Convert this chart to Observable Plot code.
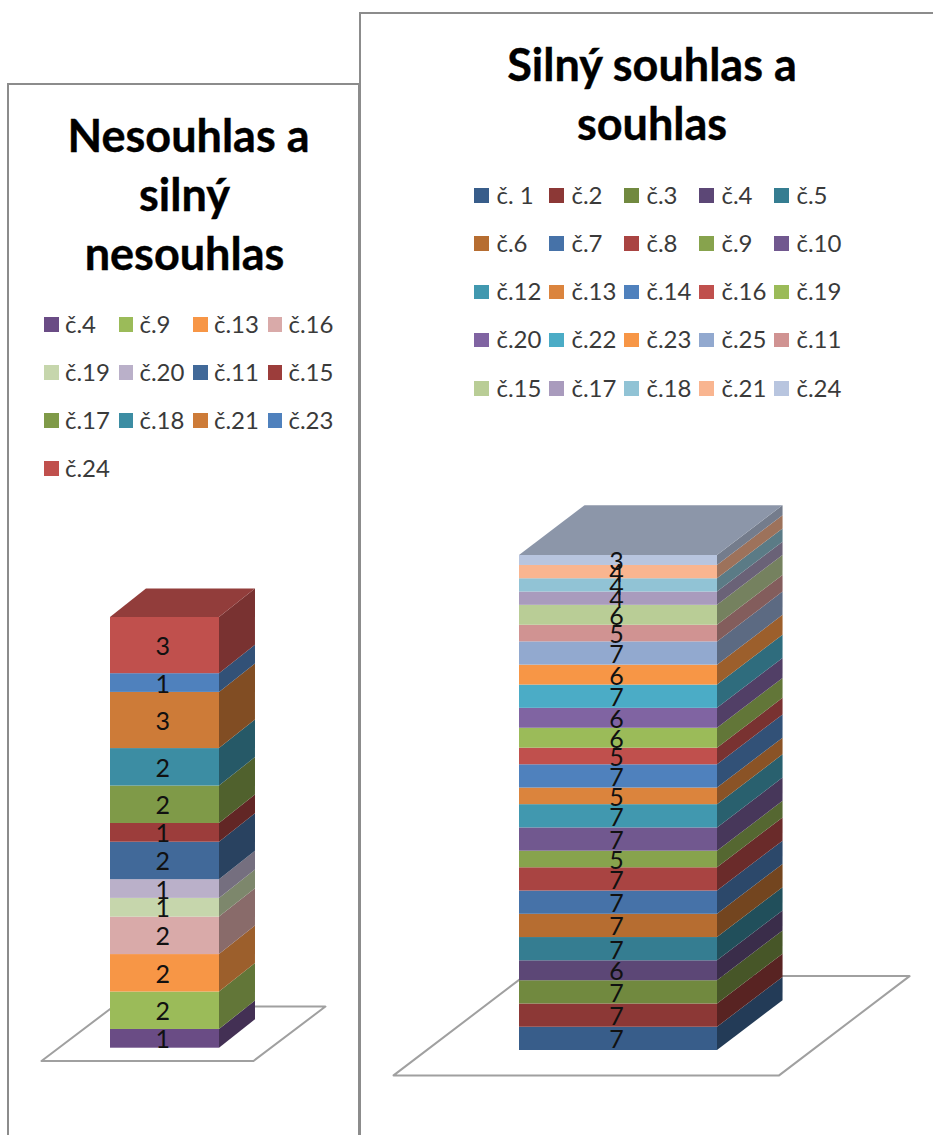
<!DOCTYPE html>
<html lang="cs">
<head>
<meta charset="utf-8">
<script src="https://cdn.jsdelivr.net/npm/d3@7"></script>
<script src="https://cdn.jsdelivr.net/npm/@observablehq/plot@0.6"></script>
<style>
html,body{margin:0;padding:0;background:#fff;}
body{position:relative;width:933px;height:1135px;overflow:hidden;font-family:Lato,"Open Sans",sans-serif;}
.panel{position:absolute;box-sizing:border-box;background:#fff;border:2.5px solid #8c8c8c;}
.title{position:absolute;text-align:center;font-weight:700;font-size:45px;line-height:59px;color:#000;white-space:nowrap;-webkit-text-stroke:0.4px #000;}
.key{position:absolute;font-size:24px;line-height:28px;color:#3a3a3a;white-space:nowrap;}
.swatch{position:absolute;width:14.5px;height:14.5px;}
.chart{position:absolute;}
.chart svg{display:block;}
</style>
</head>
<body>
<script>
// Left chart: Nesouhlas a silný nesouhlas
const leftTitle = ["Nesouhlas a", "silný", "nesouhlas"];
const leftNames = ["č.4","č.9","č.13","č.16","č.19","č.20","č.11","č.15","č.17","č.18","č.21","č.23","č.24"];
const leftValues = [1,2,2,2,1,1,2,1,2,2,3,1,3];
const leftColors = ["#6a4c85","#9bbb59","#f79646","#d9aaa9","#c6d6ac","#bab0c9","#416999","#9c3d3b","#7f9a48","#3c8da3","#cd7b38","#4f81bd","#c0504d"];

// Right chart: Silný souhlas a souhlas
const rightTitle = ["Silný souhlas a", "souhlas"];
const rightNames = ["č. 1","č.2","č.3","č.4","č.5","č.6","č.7","č.8","č.9","č.10","č.12","č.13","č.14","č.16","č.19","č.20","č.22","č.23","č.25","č.11","č.15","č.17","č.18","č.21","č.24"];
const rightValues = [7,7,7,6,7,7,7,7,5,7,7,5,7,5,6,6,7,6,7,5,6,4,4,4,3];
const rightColors = ["#385d8a","#8c3836","#71893f","#5c4776","#357d91","#b66d31","#4672a8","#a94442","#87a34d","#71588f","#4198af","#db843d","#4f81bd","#c0504d","#9bbb59","#8064a2","#4bacc6","#f79646","#92a9cf","#d09392","#b9cd96","#a99bbd","#91c3d5","#f9b590","#b8c5df"];

function shade(c, k) {
  const r = d3.rgb(c);
  return d3.rgb(r.r * k, r.g * k, r.b * k).formatHex();
}

function addDiv(cls, css, text) {
  const d = document.createElement("div");
  d.className = cls;
  Object.assign(d.style, css);
  if (text != null) d.textContent = text;
  document.body.appendChild(d);
  return d;
}

function column({names, values, colors, box, bar, depth, floor, labelX}) {
  const tops = d3.cumsum(values);
  const rows = names.map((name, i) => ({name, value: values[i], color: colors[i], y1: tops[i] - values[i], y2: tops[i]}));
  const total = tops[tops.length - 1];
  const sx = bar.right - bar.left, sy = (bar.bottom - bar.top) / total;

  // Side faces: one sheared band per segment
  const side = rows.flatMap(r => [0, depth.x].map(t => ({
    name: r.name, color: shade(r.color, 0.63),
    x: 1 + t, y1: r.y1 + depth.y * t / depth.x, y2: r.y2 + depth.y * t / depth.x
  })));
  const last = rows[rows.length - 1];
  const topFace = [0, depth.y].map(t => ({
    y: total + t, x1: depth.x * t / depth.y, x2: 1 + depth.x * t / depth.y
  }));
  const floorLine = [
    {x: floor.x0, y: floor.y0},
    {x: floor.x1, y: floor.y0},
    {x: floor.x1 + floor.dx, y: floor.y0 + floor.dy},
    {x: floor.x0 + floor.dx, y: floor.y0 + floor.dy},
    {x: floor.x0, y: floor.y0}
  ];

  const plot = Plot.plot({
    width: box.width, height: box.height,
    margin: 0,
    style: {background: "transparent", fontFamily: "Lato, 'Open Sans', sans-serif"},
    x: {axis: null, domain: [(box.left - bar.left) / sx, (box.left + box.width - bar.left) / sx], range: [0, box.width]},
    y: {axis: null, domain: [(bar.bottom - box.top - box.height) / sy, (bar.bottom - box.top) / sy], range: [box.height, 0]},
    marks: [
      Plot.line(floorLine, {x: "x", y: "y", stroke: "#a0a0a0", strokeWidth: 2}),
      Plot.areaY(side, {x: "x", y1: "y1", y2: "y2", z: "name", fill: "color"}),
      Plot.areaX(topFace, {y: "y", x1: "x1", x2: "x2", fill: shade(last.color, 0.76)}),
      Plot.rect(rows, {x1: () => 0, x2: () => 1, y1: "y1", y2: "y2", fill: "color"}),
      Plot.text(rows, {x: () => labelX, y: d => (d.y1 + d.y2) / 2, text: d => String(d.value), fontSize: 25, fill: "#111", dy: 1.5})
    ]
  });
  const holder = addDiv("chart", {left: box.left + "px", top: box.top + "px", width: box.width + "px", height: box.height + "px"});
  holder.appendChild(plot);
}

function legend(names, colors, g) {
  names.forEach((name, i) => {
    const col = i % g.cols, row = Math.floor(i / g.cols);
    const cy = g.y + row * g.rowStep, x = g.x + col * g.colStep;
    addDiv("swatch", {left: x + "px", top: (cy - 7) + "px", background: colors[i]});
    addDiv("key", {left: (x + g.textGap) + "px", top: (cy - 14.5) + "px"}, name);
  });
}

// Left panel
addDiv("panel", {left: "7px", top: "83px", width: "352.5px", height: "1100px"});
leftTitle.forEach((t, i) => addDiv("title", {left: (i === 0 ? 8 : 4) + "px", width: "361px", top: (106 + i * 59) + "px"}, t));
legend(leftNames, leftColors, {cols: 4, x: 44, y: 324, rowStep: 48, colStep: 74.5, textGap: 21});
column({
  names: leftNames, values: leftValues, colors: leftColors,
  box: {left: 10, top: 560, width: 346, height: 560},
  bar: {left: 110, right: 219, bottom: 1047.7, top: 617},
  depth: {x: 0.33, y: 1.52},
  floor: {x0: -0.633, x1: 1.312, y0: -0.683, dx: 0.66, dy: 2.91},
  labelX: 0.48
});

// Right panel
addDiv("panel", {left: "359px", top: "12px", width: "620px", height: "1200px"});
rightTitle.forEach((t, i) => addDiv("title", {left: "360px", width: "584px", top: (35 + i * 59) + "px"}, t));
legend(rightNames, rightColors, {cols: 5, x: 474, y: 195, rowStep: 48.25, colStep: 75, textGap: 22.5});
column({
  names: rightNames, values: rightValues, colors: rightColors,
  box: {left: 362, top: 480, width: 571, height: 640},
  bar: {left: 519, right: 717, bottom: 1050, top: 555},
  depth: {x: 0.331, y: 15},
  floor: {x0: -0.636, x1: 1.311, y0: -7.5, dx: 0.659, dy: 29.9},
  labelX: 0.49
});
</script>
</body>
</html>
